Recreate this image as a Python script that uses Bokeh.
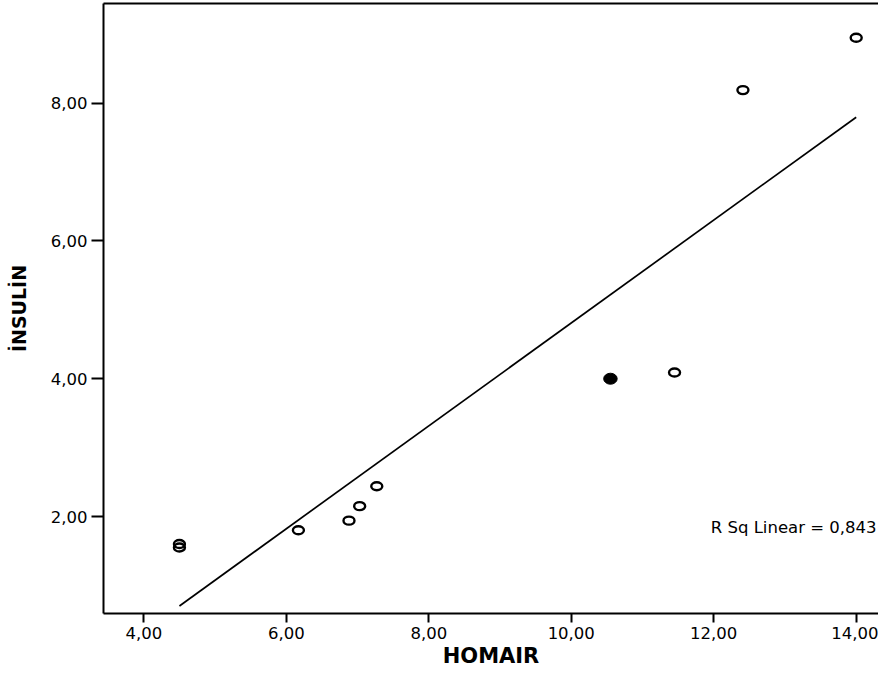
import numpy as np
from bokeh.plotting import figure
from bokeh.models import FixedTicker, LinearAxis, Label, Range1d, ColumnDataSource
from bokeh.embed import file_html
from bokeh.resources import INLINE

# ---- data ----
homair = [4.50, 4.50, 6.17, 6.88, 7.03, 7.27, 11.45, 12.41, 14.00]
insulin = [1.60, 1.55, 1.80, 1.94, 2.15, 2.44, 4.09, 8.19, 8.95]
highlight_homair = [10.55]
highlight_insulin = [4.00]

x_ticks = [4, 6, 8, 10, 12, 14]
x_tick_labels = ["4,00", "6,00", "8,00", "10,00", "12,00", "14,00"]
y_ticks = [2, 4, 6, 8]
y_tick_labels = ["2,00", "4,00", "6,00", "8,00"]
x_title = "HOMAIR"
y_title = "İNSULİN"
fit_label = "R Sq Linear = 0,843"

FONT = "DejaVu Sans"

p = figure(width=878, height=670, output_backend="svg", toolbar_location=None,
           x_range=Range1d(3.434, 14.313), y_range=Range1d(0.592, 9.447),
           min_border_left=103, min_border_right=0, min_border_top=3, min_border_bottom=0,
           x_axis_location=None, y_axis_location=None)
p.outline_line_color = None
p.grid.visible = False
p.background_fill_color = "white"
p.border_fill_color = "white"

xaxis = LinearAxis(ticker=FixedTicker(ticks=x_ticks),
                   major_label_overrides={t: l for t, l in zip(x_ticks, x_tick_labels)})
yaxis = LinearAxis(ticker=FixedTicker(ticks=y_ticks),
                   major_label_overrides={t: l for t, l in zip(y_ticks, y_tick_labels)})
for ax in (xaxis, yaxis):
    ax.axis_line_color = "black"
    ax.axis_line_width = 2
    ax.major_tick_line_color = "black"
    ax.major_tick_line_width = 2
    ax.major_tick_in = 0
    ax.minor_tick_line_color = None
    ax.major_label_text_font = FONT
    ax.major_label_text_font_size = "16.5px"
    ax.major_label_text_color = "black"
    ax.axis_label_text_font = FONT
    ax.axis_label_text_font_style = "bold"
    ax.axis_label_text_color = "black"
xaxis.major_tick_out = 9
xaxis.major_label_standoff = 4
xaxis.axis_label = x_title
xaxis.axis_label_text_font_size = "21px"
xaxis.axis_label_standoff = 2
yaxis.major_tick_out = 12
yaxis.major_label_standoff = 4
yaxis.axis_label = y_title
yaxis.axis_label_text_font_size = "19px"
yaxis.axis_label_standoff = 18
p.add_layout(xaxis, "below")
p.add_layout(yaxis, "left")

top = LinearAxis(ticker=FixedTicker(ticks=[]))
top.axis_line_color = "black"
top.axis_line_width = 2
top.major_tick_line_color = None
top.minor_tick_line_color = None
top.major_label_standoff = 0
top.major_label_text_font_size = "0px"
p.add_layout(top, "above")

# regression line computed from the points
all_x = np.array(homair + highlight_homair)
all_y = np.array(insulin + highlight_insulin)
slope, intercept = np.polyfit(all_x, all_y, 1)
lx = np.array([all_x.min(), all_x.max()])
p.line(lx, slope * lx + intercept, line_color="black", line_width=1.7)

src = ColumnDataSource(dict(x=homair, y=insulin))
p.ellipse(x="x", y="y", width=11, height=8, width_units="screen", height_units="screen",
          source=src, fill_color=None, line_color="black", line_width=2.4)
p.ellipse(x=highlight_homair, y=highlight_insulin, width=13.5, height=11,
          width_units="screen", height_units="screen",
          fill_color="black", line_color="black", line_width=1)

p.add_layout(Label(x=14.285, y=1.836, text=fit_label, text_align="right",
                   text_baseline="alphabetic", text_font=FONT, text_font_size="16.5px",
                   text_color="black"))

open("out.html", "w").write(file_html(p, INLINE))
